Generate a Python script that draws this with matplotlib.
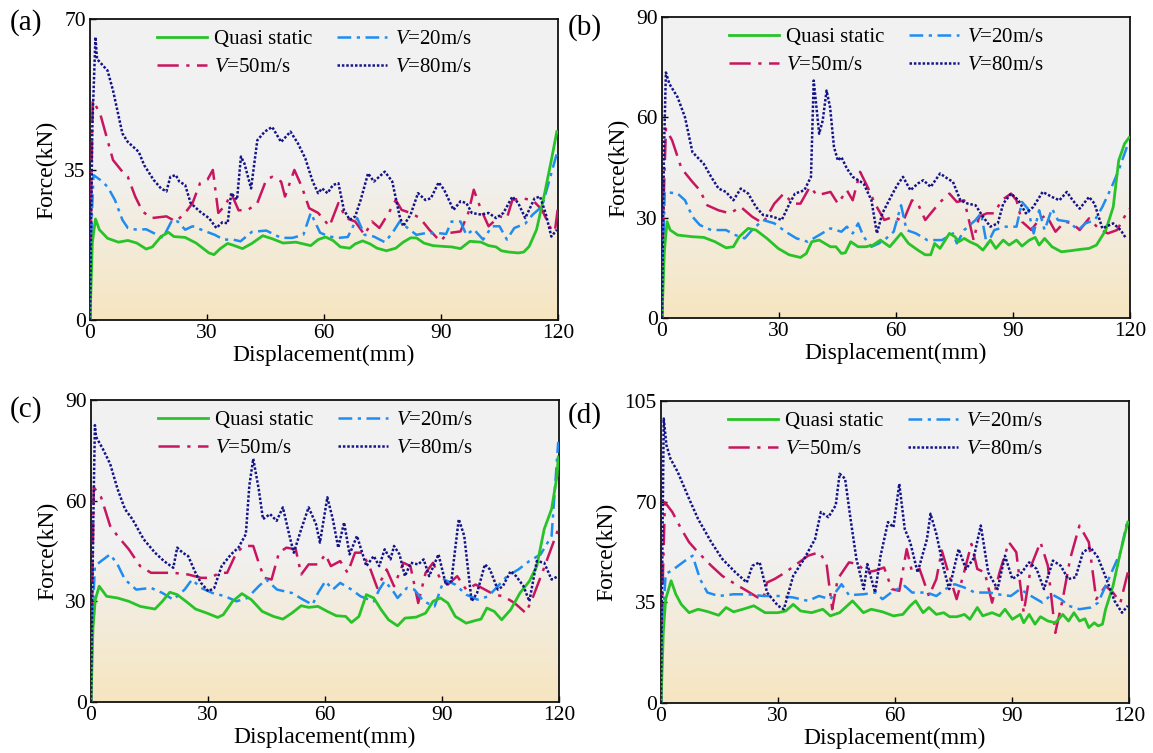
import numpy as np
import matplotlib
matplotlib.use("Agg")
import matplotlib.pyplot as plt
from matplotlib.colors import to_rgb

plt.rcParams["font.family"] = ["Liberation Serif", "DejaVu Serif"]
plt.rcParams["mathtext.fontset"] = "custom"
plt.rcParams["mathtext.rm"] = "Liberation Serif"
plt.rcParams["mathtext.it"] = "Liberation Serif:italic"

# ---------------- data: force-displacement curves ----------------
# panel (a)
a_qs_x = [0, 0.6, 1.4, 2.4, 4.5, 7.3, 9.7, 12, 14.4, 16, 18.2, 20.1, 21.5, 24.4, 27.2, 30.5, 31.8, 33.4, 35.3, 36.7, 39.1, 41.5, 44.3, 46.7, 49.5, 52.8, 56.6, 58.5, 60.4, 62.3, 64.2, 66.6, 68, 69.9, 71.8, 73.6, 76, 78.4, 80.3, 82.2, 83.7, 85.6, 87.9, 90.8, 92.7, 95, 97.4, 100.3, 102.2, 104.1, 105.5, 107.4, 109.8, 111.2, 112.6, 114.5, 116.4, 118.3, 119.7]
a_qs_y = [0, 18, 23.5, 21, 19, 18.1, 18.5, 17.9, 16.5, 17, 19.4, 20.4, 19.4, 19.2, 17.9, 15.6, 15.2, 16.6, 17.8, 17.4, 16.6, 17.8, 19.6, 18.9, 17.9, 18.1, 17.3, 18.7, 19.3, 18.5, 17, 16.7, 17.7, 18.4, 17.7, 16.7, 16.1, 16.7, 18.1, 19.1, 19.1, 17.9, 17.3, 17.1, 17, 16.6, 18.3, 18.1, 17.3, 17, 16.1, 15.8, 15.6, 15.8, 17.1, 21, 28.7, 37.2, 43.8]
a_v20_x = [0, 0.5, 0.9, 2.6, 4.5, 6.4, 8.3, 9.7, 12, 14.4, 16.8, 18.7, 21.1, 22.5, 24.4, 26.3, 29.1, 32, 34.3, 36.7, 38.6, 41.5, 45.2, 49, 51.9, 54.7, 56.6, 59, 61.4, 63.7, 66.1, 68.5, 70.4, 72.8, 75.6, 77.5, 79.4, 81.3, 83.7, 86, 89.4, 91.3, 92.7, 95, 96.5, 98.4, 100.8, 103.1, 105, 106.9, 108.8, 111.6, 113.5, 115.9, 117.7, 119.7]
a_v20_y = [0, 25, 33.7, 32.6, 31, 27.9, 23.3, 21.4, 21, 21.1, 20, 19.1, 23.3, 22.9, 21, 21.8, 20.8, 19.8, 18.7, 18.7, 18.3, 20.5, 20.8, 19.1, 19.1, 19.8, 24.9, 20.3, 19.4, 19.1, 19.3, 23.7, 19.8, 19.4, 18.1, 20.2, 22.9, 21.5, 19.8, 20.2, 20.2, 20, 22.9, 22.9, 19.8, 21.1, 18.7, 21.8, 21.8, 18.7, 21.4, 22.4, 24.5, 26.4, 32.2, 38.7]
a_v50_x = [0, 0.4, 0.7, 2.6, 4.5, 5.9, 8.3, 9.7, 11.6, 13.5, 15.8, 19.6, 22, 24.4, 26.3, 28.2, 30.1, 31.5, 32.9, 34.8, 36.2, 38.1, 40.5, 42.9, 45.2, 46.7, 49, 50, 52.4, 54.3, 56.2, 58.5, 61.4, 63.7, 65.6, 68, 70.4, 72.3, 74.2, 76.6, 78.4, 79.9, 82.2, 84.6, 87, 89.8, 91.8, 95, 97, 98.4, 100.3, 102.2, 105, 106.9, 108.3, 110.7, 113.5, 115.9, 118.3, 119.2, 119.9]
a_v50_y = [0, 35, 51.1, 48, 41.8, 37.2, 34.5, 33.3, 28.7, 25.2, 23.7, 24.1, 22.9, 24.9, 27.2, 31.8, 32.6, 34.9, 24.9, 26.8, 29.5, 25.5, 25.6, 27.2, 32.6, 33.3, 32.2, 28.7, 34.9, 31, 26, 24.9, 21.8, 27.2, 23.7, 22.9, 19.8, 22.9, 21.4, 24.9, 27.9, 25.6, 24.9, 23.7, 21, 18.3, 20.2, 20.6, 24.9, 30.3, 25.6, 21.8, 24.1, 23.7, 27.9, 28.3, 27.9, 25.6, 21, 20.6, 25.6]
a_v80_x = [0, 0.6, 1.4, 1.8, 4.5, 5.9, 8.3, 9.7, 12.5, 13.9, 16.3, 18.2, 19.6, 20.6, 22, 22.9, 24.4, 25.8, 28.2, 30.5, 32.4, 33.9, 35.3, 36.2, 37.7, 38.7, 39.6, 41.3, 42.9, 44.8, 46.7, 49, 51.4, 53.3, 55.2, 57.1, 58.5, 59.5, 60.9, 62.3, 63.7, 65.1, 66.6, 68, 69.4, 71.3, 72.8, 75.6, 77.5, 79.4, 80.3, 82.2, 84.1, 86, 87.4, 89.4, 90.8, 93.2, 95, 96.5, 97.9, 100.3, 102.2, 104.1, 106, 108.3, 109.8, 111.6, 114, 115.4, 116.8, 118.3, 119.7]
a_v80_y = [0, 45, 65.8, 60.7, 58, 53.4, 43.4, 41.4, 39.1, 36, 32.6, 30.6, 29.9, 33.3, 33.7, 32.2, 31.4, 27.2, 25.2, 23.7, 21.4, 22.7, 22.5, 29.5, 28, 38, 36.4, 30.6, 41.8, 43.8, 44.9, 41.4, 43.8, 41.1, 37.6, 32.2, 29.5, 30.6, 29.5, 31.4, 31.8, 25.6, 23.3, 24.1, 27.9, 34.1, 32.2, 34.5, 32.2, 24.1, 21.8, 24.5, 29.5, 27.9, 28.3, 32, 30.3, 25.6, 27.6, 27.2, 24.9, 24.5, 24.9, 23.7, 24.9, 28.7, 27.2, 23.7, 28.3, 28.7, 24.9, 19.4, 21]

# panel (b)
b_qs_x = [0, 0.6, 1.3, 2.1, 4, 7.8, 10.7, 13.6, 16.4, 18.3, 19.8, 22.1, 24.1, 26.9, 29.8, 32.6, 35.5, 37, 38.4, 40.3, 43.2, 44.6, 46, 47, 48.4, 50.3, 52.2, 54.1, 56, 58.4, 61.3, 63.2, 65.6, 67.5, 68.9, 69.9, 71.3, 73.7, 75.1, 76.1, 77.5, 78.9, 80.8, 82.3, 84.2, 85.6, 87.5, 89, 90.9, 92.3, 94.2, 95.7, 96.7, 98.1, 100, 102.4, 104.7, 107.1, 109.5, 111.4, 113.8, 115.7, 117.1, 118.6, 119.8]
b_qs_y = [0, 20, 28.8, 26.3, 24.8, 24.3, 24.1, 22.8, 21, 21.3, 24.3, 26.8, 26.3, 23.8, 20.8, 18.9, 18.1, 19.3, 22.8, 23.3, 21.3, 21.3, 19.3, 19.5, 22.8, 21.3, 21.3, 21.8, 23.3, 21.3, 25.3, 22.3, 20.3, 18.9, 18.9, 22.3, 20.8, 25.3, 24.3, 22.8, 23.8, 22.8, 21.8, 20.3, 23.3, 20.8, 23.3, 21.8, 23.3, 21.5, 23.3, 24.1, 21.8, 23.8, 21.3, 19.8, 20.1, 20.5, 20.8, 21.8, 26.3, 33.2, 47.1, 52.1, 54]
b_v20_x = [0, 0.4, 0.7, 4, 5.9, 7.8, 9.7, 12.6, 16.4, 18.8, 21.2, 23.1, 25.9, 28.8, 31.7, 34.5, 37.4, 40.3, 43.2, 46, 47.4, 48.9, 50.3, 51.7, 53.7, 55.6, 57.5, 59.4, 61.3, 62.7, 65.1, 68, 71.8, 74.6, 75.6, 77.5, 80.4, 81.8, 83.3, 85.2, 88.1, 90.9, 92.3, 93.8, 95.3, 96.7, 98.1, 100, 101.5, 104.3, 106.7, 108.6, 111, 112.9, 115.3, 117.1, 119.5]
b_v20_y = [0, 25, 37.7, 37.2, 35.2, 30.3, 27.8, 26.3, 26.3, 24.8, 23.8, 26.3, 29.3, 28.3, 25.8, 23.8, 22.8, 24.8, 26.8, 25.8, 27.3, 25.3, 28.3, 24.3, 21.3, 22.3, 23.8, 25.8, 33.7, 26.3, 25.3, 23.3, 23.3, 25.3, 22.3, 26.3, 29.3, 31.3, 21.8, 26.3, 27.3, 27.3, 34.7, 32.7, 25.3, 32.2, 26.3, 32.7, 29.3, 28.8, 26.3, 28.3, 29.3, 33.2, 39.2, 44.2, 52.1]
b_v50_x = [0, 0.5, 1, 2.6, 5, 7.8, 9.7, 11.6, 14.5, 17.4, 20.2, 23.1, 25.9, 28.8, 31.2, 33.6, 35.5, 37.9, 39.8, 43.2, 45.1, 47.4, 48.9, 50.8, 52.7, 54.6, 57, 59.4, 61.8, 64.1, 65.6, 67.5, 69.9, 71.8, 73.7, 75.6, 77.5, 79.9, 81.3, 83.3, 85.2, 87.1, 89.5, 90.9, 92.3, 94.7, 96.6, 98.5, 100.9, 103.3, 105.2, 107.1, 109.5, 111.9, 114.3, 116.7, 118.6, 119.8]
b_v50_y = [0, 38, 56.6, 53.1, 44.7, 40.7, 38.2, 33.7, 32.2, 31.3, 33.2, 30.3, 28.3, 34.2, 37.2, 34.2, 34.2, 39.2, 36.7, 37.7, 34.2, 38.2, 35.2, 43.7, 39.2, 34.2, 29.3, 30.3, 28.8, 35.2, 34.2, 29.3, 32.7, 35.2, 37.2, 34.7, 35.2, 23.3, 30.3, 31.3, 31.3, 35.2, 37.2, 35.2, 28.8, 26.3, 29.3, 30.8, 25.8, 28.8, 28.3, 26.3, 29.8, 26.8, 25.3, 26.3, 30.3, 32.7]
b_v80_x = [0, 0.5, 1, 1.9, 4, 5.9, 7.8, 10.7, 12.6, 14.5, 16.4, 18.3, 20.2, 22.1, 24.1, 25.9, 28.4, 30.7, 32.7, 34.1, 36.5, 38.2, 38.9, 40.3, 41.2, 42.2, 43.1, 44.1, 45.1, 46, 47.4, 48.9, 51.7, 53.7, 55.1, 56.5, 58.9, 60.3, 61.8, 63.7, 65.6, 67, 68.9, 71.3, 73.2, 74.6, 76.5, 78.4, 80.4, 82.3, 84.2, 86.1, 87.5, 89.5, 91.4, 93.3, 95.2, 97.6, 100, 101.9, 103.8, 105.3, 107.1, 109.5, 110.9, 112.9, 115.7, 117.6, 119]
b_v80_y = [0, 50, 73.4, 70, 66, 60, 49.6, 46.1, 42.2, 38.7, 37.7, 35.2, 38.7, 37.2, 33.2, 30.8, 30.3, 29.3, 34.2, 37.2, 38.2, 42.2, 71, 55.1, 59, 68, 63, 51.1, 47.1, 48.1, 44.7, 42.2, 40.2, 35.2, 25.3, 31.3, 36.7, 39.7, 42.2, 38.2, 40.2, 41.2, 39.2, 43.2, 41.7, 40.7, 35.2, 34.2, 33.7, 30.3, 27.3, 28.3, 34.2, 37.2, 35.2, 31.3, 33.2, 37.7, 36.2, 35.2, 37.7, 35.2, 32.7, 36.2, 34.2, 26.8, 28.3, 26.3, 23.8]

# panel (c)
c_qs_x = [0, 0.5, 1.1, 2.1, 4, 6.8, 9.7, 12.6, 16.4, 18.3, 20.2, 22.1, 24.9, 26.8, 29.7, 32.5, 33.9, 36.3, 38.7, 41.1, 43.9, 46.8, 49.2, 51.5, 53.9, 55.8, 58.2, 60.6, 62.9, 65.3, 66.8, 68.7, 70.6, 72.5, 74.4, 76.3, 78.6, 80.5, 83.4, 85.8, 87.7, 89.6, 91.5, 93.4, 96.2, 98.6, 100, 101.5, 103.4, 105.3, 107.6, 110, 112.4, 114.3, 116.2, 118.1, 119.5, 119.8]
c_qs_y = [0, 22, 30.5, 34.5, 31.5, 31, 30, 28.5, 27.7, 30, 32.7, 32, 29.5, 27.7, 26.5, 25.2, 26, 30, 32.3, 30.5, 27, 25.5, 24.7, 26.5, 28.7, 28.2, 28.5, 27, 25.7, 25.5, 23.7, 25.5, 32, 31, 27.5, 24.5, 22.7, 25, 25.3, 26.5, 30, 31, 29.5, 25.5, 23.5, 24.3, 24.7, 28, 27, 24.5, 27.5, 32.5, 36, 40.5, 51.5, 57.5, 67.5, 73]
c_v20_x = [0, 0.5, 1, 2.6, 4.9, 6.8, 8.7, 11.6, 15.4, 18.3, 21.1, 24, 25.9, 28.2, 31.1, 34.4, 37.3, 40.1, 43, 44.9, 47.7, 51.5, 54.4, 56.8, 58.2, 60.1, 62, 63.9, 66.8, 69.1, 72.5, 73.9, 75.3, 77.2, 78.6, 81, 82.9, 85.3, 88.1, 90.5, 93.4, 96.2, 99.1, 101.9, 104.3, 106.7, 109.6, 112.4, 115.3, 118.1, 119.8]
c_v20_y = [0, 28, 40.5, 42, 44, 41, 36.5, 33.5, 34, 32.5, 30.5, 33.5, 36.5, 34, 32.5, 31.5, 30, 31, 34.5, 36.5, 33.5, 32.5, 30.5, 29, 32.5, 36, 33.5, 35.5, 33.5, 31.5, 30, 33.5, 36, 33.5, 31, 34, 33.5, 30, 28.5, 36.5, 35, 32, 30.5, 31.5, 34.5, 37.5, 39.5, 42, 44, 49.5, 77.5]
c_v50_x = [0, 0.4, 0.7, 2.6, 4.9, 6.8, 9.7, 12.6, 15.4, 21.1, 24.9, 28.2, 30.6, 33, 34.9, 37.3, 39.2, 41.6, 43, 44.4, 46.3, 48.2, 50.1, 52.5, 53.9, 55.8, 58.2, 60.1, 61.5, 63.9, 65.8, 67.7, 69.6, 71.5, 73.4, 75.8, 77.7, 80.1, 81.9, 83.9, 85.8, 87.7, 89.6, 91.5, 93.9, 96.2, 98.6, 101, 103.4, 105.8, 108.6, 111.5, 113.4, 115.7, 117.6, 119.8]
c_v50_y = [0, 40, 64, 61, 52.5, 49.5, 45.5, 40.5, 38.5, 38.5, 38, 37, 37, 38.5, 38.5, 44.5, 46.5, 46.5, 41.5, 37, 36.5, 44.5, 46, 45.5, 38, 41, 41, 44, 40.5, 42, 38.5, 44.5, 44.5, 40, 34, 39.5, 34.5, 41.5, 40.5, 29.5, 38.5, 41.5, 36.5, 35, 37.5, 33.5, 35, 33.5, 32, 31.5, 29.5, 26.5, 31.5, 38.5, 44.5, 51.5]
c_v80_x = [0, 0.6, 1, 1.3, 3, 4.9, 6.8, 8.7, 10.6, 13.5, 16.4, 18.7, 21.1, 22.1, 23.5, 24.9, 26.8, 28.2, 30.1, 31.6, 33.5, 35.9, 37.8, 39.7, 40.6, 41.6, 43, 44.1, 45.9, 47.6, 49.2, 51.1, 52, 53.9, 55.8, 57.7, 58.7, 60.6, 62, 63.4, 64.9, 66.3, 68.2, 70.6, 72.5, 73.9, 75.3, 76.8, 77.7, 79.1, 80.5, 82, 83.9, 85.3, 86.7, 89.1, 91, 92.4, 94.3, 95.7, 97.6, 99, 101, 102.3, 104.3, 105.6, 107.6, 109, 110.9, 112.4, 114.3, 116.2, 118.1, 119.8]
c_v80_y = [0, 55, 82.5, 79, 75.5, 71, 63.5, 57.5, 54.5, 48.5, 44.5, 42, 40, 46, 44.5, 43.5, 38.5, 35.5, 33, 34, 40.5, 44, 46, 50, 64.5, 72.5, 63.5, 54.5, 56, 54, 58, 48.5, 44.5, 51.5, 58, 53, 47.5, 61, 54.5, 46, 53.5, 44, 49.5, 40.5, 43.5, 40.5, 45.5, 42.5, 46.5, 44, 37.5, 41.5, 41, 42.5, 37.5, 44, 35, 36, 54.5, 49.5, 30, 32.5, 41, 39.5, 33.5, 34.5, 39, 37.5, 34.5, 30, 42, 41.5, 36.5, 37.5]

# panel (d)
d_qs_x = [0, 0.6, 1.2, 2.6, 3.8, 5.2, 7.2, 9.5, 11.9, 14.8, 16.7, 18.6, 21, 23.8, 26.7, 30, 32, 33.9, 35.8, 38.6, 41.5, 43.4, 45.8, 49.1, 51.9, 53.9, 56.8, 59.6, 62, 63.9, 65.3, 67.2, 68.7, 70.6, 72.5, 74, 75.9, 77.8, 79.2, 81.1, 82.5, 84.9, 86.8, 88.2, 90.1, 92.1, 93, 94.4, 95.9, 97.3, 99.2, 101.1, 103, 104.5, 105.9, 107.3, 108.7, 109.7, 111.1, 112.1, 113.2, 114, 115.9, 117.8, 119.7]
d_qs_y = [0, 25, 36.1, 42.5, 37.8, 34.3, 31.4, 32.6, 31.8, 30.5, 33.2, 31.7, 32.6, 33.8, 31.4, 31.4, 32, 34.3, 32, 31.4, 32.6, 30.3, 31.4, 35.5, 31.4, 32.6, 31.7, 30.3, 30.8, 33.8, 35.5, 31.4, 33.2, 30.8, 31.4, 30, 30, 30.8, 29.1, 33.2, 30.3, 31.4, 30.3, 32.6, 29.1, 30.8, 27.9, 30.8, 27.4, 30, 28.5, 27.9, 30.8, 28.5, 31.4, 28.5, 29.3, 26.2, 27.9, 26.8, 27.4, 32.6, 40.7, 52.4, 62.9]
d_v20_x = [0, 0.5, 1.2, 3.3, 6.2, 8.1, 10, 11.9, 14.8, 18.6, 22.4, 26.2, 30, 33.9, 37.7, 40.5, 43.4, 46.3, 48.2, 51.9, 54.9, 56.8, 59.6, 62.5, 64.4, 68.2, 70.6, 72.9, 75.3, 77.7, 80.5, 84.3, 86.3, 89.7, 92.1, 94.9, 97.8, 100.2, 102.5, 104.5, 107.3, 110.2, 112.1, 114, 115.9, 117.8, 119.7]
d_v20_y = [0, 30, 44.8, 46.6, 49.5, 51.2, 43.1, 38.4, 37.2, 37.8, 37.8, 37.2, 37.2, 36.7, 35.5, 37.2, 36.1, 41.3, 37.5, 37.8, 38.4, 36.1, 39, 40.7, 38.4, 38.4, 37.2, 39.6, 41.3, 40.2, 38.4, 38.4, 37.8, 37.2, 39.6, 37.2, 34.9, 37.8, 36.1, 33.8, 32.6, 33.2, 34.9, 40.7, 46.6, 52.4, 64]
d_v50_x = [0, 0.5, 1, 2.9, 5.2, 7.2, 9.5, 12.9, 15.7, 19.1, 22, 24.8, 26.2, 27.2, 29.1, 31.9, 34.8, 37.7, 40.5, 42.4, 43.9, 45.3, 48.2, 50.5, 52.5, 54.9, 57.2, 59.2, 61.1, 63, 64.4, 66.3, 68.7, 70.6, 72, 73.4, 75.8, 77.7, 79.6, 81.1, 83, 84.9, 86.8, 89.2, 91.1, 93, 94.9, 97.3, 99.2, 101.1, 103, 104.9, 107.3, 109.7, 111.6, 114, 115.9, 117.8, 119.7]
d_v50_y = [0, 45, 69.8, 66.4, 60.5, 55.9, 52.4, 47.7, 44.2, 41.3, 39, 36.7, 36.1, 41.9, 43.1, 45.4, 48.3, 51.2, 52.4, 48.9, 32.6, 43.1, 48.9, 48.3, 45.4, 46, 47.1, 39.6, 39, 53.5, 45.4, 46.6, 37.2, 43.1, 53, 46.6, 36.1, 45.4, 55.3, 46.6, 45.4, 34.9, 45.4, 55.9, 52.4, 31.4, 47.7, 55.9, 47.7, 24.4, 36.1, 50.1, 61.7, 55.9, 36.1, 40.7, 38.4, 34.9, 45.4]
d_v80_x = [0, 0.4, 0.7, 1.4, 2.4, 4.3, 7.2, 9.5, 12.9, 15.7, 19.1, 22, 23.4, 25.3, 27.2, 30, 31.5, 33.9, 36.7, 39.5, 41, 42.9, 44.8, 45.8, 47.2, 48.6, 50.1, 52, 52.9, 54.9, 56.3, 58.2, 59.6, 61.1, 62.5, 63.9, 65.8, 68.2, 69.1, 70.6, 72.5, 73.9, 76.3, 78.2, 80.1, 82, 83.9, 86.3, 88.2, 90.1, 92.5, 94.4, 96.3, 98.2, 100.5, 102.5, 104.4, 106.3, 108.2, 110.1, 112, 113.9, 116.3, 118.2, 119.7]
d_v80_y = [0, 60, 98.9, 89.6, 85, 80.3, 71, 64, 55.9, 50.1, 45.4, 41.9, 47.7, 48.9, 38.4, 33.8, 32.6, 44.2, 50.1, 57, 66.4, 64.6, 68.7, 79.7, 78, 64, 50.1, 39.6, 48.3, 38.4, 51.2, 62.9, 61.1, 76.2, 60.5, 55.9, 45.4, 57, 65.8, 58.8, 46.6, 39.6, 53.5, 46.6, 50.1, 61.7, 45.4, 39.6, 51.2, 43.1, 45.4, 48.9, 46.6, 39.6, 49.5, 47.7, 43.1, 43.7, 52.4, 54.1, 50.7, 44.2, 35.5, 31.4, 33.8]

panel_labels = ["(a)", "(b)", "(c)", "(d)"]
y_ticks = [[0, 35, 70], [0, 30, 60, 90], [0, 30, 60, 90], [0, 35, 70, 105]]
x_ticks = [0, 30, 60, 90, 120]
series_labels = ["Quasi static", "$V$=20m/s", "$V$=50m/s", "$V$=80m/s"]

panels = [
    [(a_qs_x, a_qs_y), (a_v20_x, a_v20_y), (a_v50_x, a_v50_y), (a_v80_x, a_v80_y)],
    [(b_qs_x, b_qs_y), (b_v20_x, b_v20_y), (b_v50_x, b_v50_y), (b_v80_x, b_v80_y)],
    [(c_qs_x, c_qs_y), (c_v20_x, c_v20_y), (c_v50_x, c_v50_y), (c_v80_x, c_v80_y)],
    [(d_qs_x, d_qs_y), (d_v20_x, d_v20_y), (d_v50_x, d_v50_y), (d_v80_x, d_v80_y)],
]

# ---------------- styling ----------------
styles = [
    dict(color="#28c328", lw=2.0, ls="-", zorder=5),
    dict(color="#1e8cf0", lw=1.8, ls=(0, (5.5, 2.2, 1.3, 2.2)), zorder=4),
    dict(color="#c8155f", lw=1.8, ls=(0, (8.5, 3, 1.3, 3)), zorder=3),
    dict(color="#14148a", lw=1.8, ls=(0, (1.0, 0.75)), zorder=6),
]

W, H = 1153, 753
boxes = [
    (90, 19, 558, 320),
    (662, 17, 1130, 318),
    (91, 400, 559, 702),
    (661, 401, 1129, 703),
]
label_pos = [(10, 23), (568, 28), (10, 410), (568, 416)]

# light grey upper region fading into a warm beige towards the x axis
grey = np.array(to_rgb("#f1f1f1"))
beige = np.array(to_rgb("#f6e5c0"))
f = np.linspace(0, 1, 300)[:, None]
t = np.clip(f / 0.5, 0, 1)
grad = (beige[None, :] * (1 - t) + grey[None, :] * t)[::-1]
grad = np.repeat(grad[:, None, :], 2, axis=1)

fig = plt.figure(figsize=(W / 100, H / 100), dpi=100)

for i, (l, tp, r, b) in enumerate(boxes):
    ax = fig.add_axes([l / W, 1 - b / H, (r - l) / W, (b - tp) / H])
    ax.imshow(grad, extent=[0, 1, 0, 1], transform=ax.transAxes,
              aspect="auto", zorder=0, interpolation="bilinear")
    handles = []
    for (xs, ys), st, lab in zip(panels[i], styles, series_labels):
        h, = ax.plot(xs, ys, color=st["color"], lw=st["lw"], ls=st["ls"],
                     zorder=st["zorder"], label=lab, solid_joinstyle="round")
        handles.append(h)
    ax.set_xlim(0, 120)
    ax.set_ylim(0, y_ticks[i][-1])
    ax.set_xticks(x_ticks)
    ax.set_yticks(y_ticks[i])
    ax.tick_params(direction="in", length=4, width=1, labelsize=15.5, pad=3)
    for s in ax.spines.values():
        s.set_linewidth(1.3)
        s.set_color("#111111")
    ax.set_xlabel("Displacement(mm)", fontsize=17, labelpad=1.5)
    ax.set_ylabel("Force(kN)", fontsize=17, labelpad=5)
    order = [0, 2, 1, 3]
    ax.legend([handles[k] for k in order], [series_labels[k] for k in order],
              ncol=2, loc="upper left", bbox_to_anchor=(0.12, 1.0),
              frameon=False, fontsize=15, handlelength=2.4, handletextpad=0.35,
              columnspacing=1.2, labelspacing=0.42, borderaxespad=0.1)
    lx, ly = label_pos[i]
    fig.text(lx / W, 1 - ly / H, panel_labels[i], fontsize=21,
             ha="left", va="center")

fig.savefig("out.png", dpi=100)
